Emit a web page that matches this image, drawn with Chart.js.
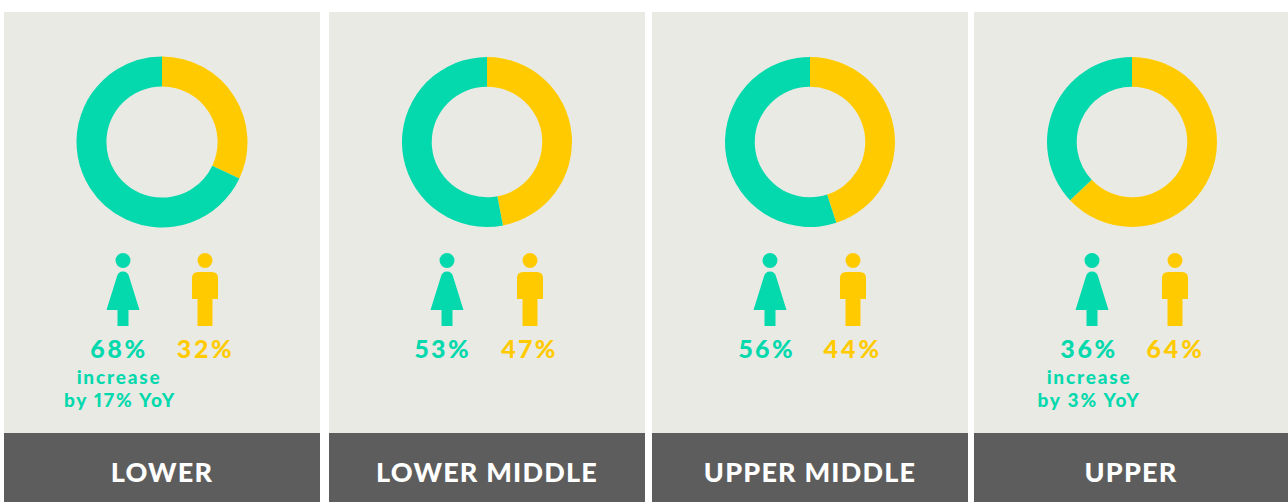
<!DOCTYPE html>
<html>
<head>
<meta charset="utf-8">
<script src="https://cdn.jsdelivr.net/npm/chart.js@4"></script>
<style>
  html, body { margin: 0; padding: 0; background: #fff; }
  #stage { position: relative; width: 1288px; height: 502px; overflow: hidden; font-family: Lato, sans-serif; }
  .panel, .band, canvas, svg, .txt { position: absolute; }
  .panel { top: 12px; height: 421px; background: #eaeae5; }
  .band { top: 433px; height: 69px; background: #5d5d5d; color: #fff; font-size: 27px; font-weight: 900;
          letter-spacing: 1.2px; text-align: center; line-height: 77px; }
  .txt { transform: translateX(-50%); white-space: nowrap; font-weight: 900; font-feature-settings: "pnum"; }
  .pct { top: 333px; font-size: 25px; letter-spacing: 2.6px; line-height: 30px; }
  .note { font-size: 19px; letter-spacing: 1.8px; line-height: 22px; }
</style>
</head>
<body>
<div id="stage"></div>
<script>
// datos
const categories = ['LOWER', 'LOWER MIDDLE', 'UPPER MIDDLE', 'UPPER'];
const femaleShare = [68, 53, 56, 36];
const maleShare = [32, 47, 44, 64];
// the rings in the picture are not cut exactly at the printed percentages
const femaleRing = [68, 53, 55, 37];
const maleRing = [32, 47, 45, 63];
const notes = [['increase', 'by 17% YoY'], [], [], ['increase', 'by 3% YoY']];

// colores y posiciones
const GREEN = '#03d9ac';
const YELLOW = '#ffcb00';
const panelX = [4, 329, 652, 974];
const panelW = [316, 316, 316, 314];
const ringX = [162, 487, 810, 1132];
const ringR = [85.5, 85, 85, 85];
const womanX = [122.5, 447, 770, 1092];
const manX = [205, 530, 853, 1175];
const femaleTextX = [119, 443, 767, 1089];
const maleTextX = [205.5, 529.5, 852.5, 1175.5];

const stage = document.getElementById('stage');

function addText(cls, text, x, color, top) {
    const el = document.createElement('div');
    el.className = 'txt ' + cls;
    el.textContent = text;
    el.style.left = x + 'px';
    el.style.color = color;
    if (top !== undefined) el.style.top = top + 'px';
    stage.appendChild(el);
}

function addIcon(x, color, path) {
    const svgNS = 'http://www.w3.org/2000/svg';
    const svg = document.createElementNS(svgNS, 'svg');
    svg.setAttribute('width', 40);
    svg.setAttribute('height', 80);
    svg.style.left = (x - 20) + 'px';
    svg.style.top = '250px';
    const head = document.createElementNS(svgNS, 'circle');
    head.setAttribute('cx', 20);
    head.setAttribute('cy', 10.5);
    head.setAttribute('r', 7.5);
    head.setAttribute('fill', color);
    const body = document.createElementNS(svgNS, 'path');
    body.setAttribute('d', path);
    body.setAttribute('fill', color);
    svg.appendChild(head);
    svg.appendChild(body);
    stage.appendChild(svg);
}

const WOMAN = 'M13.800 27 Q15 21.500 20 21.500 Q25 21.500 26.200 27 L36.500 60 L25.500 60 L25.500 76 L14.500 76 L14.500 60 L3.500 60 Z';
const MAN = 'M7 28 Q7 22 13 22 L27 22 Q33 22 33 28 L33 49 L27.500 49 L27.500 76 L12.500 76 L12.500 49 L7 49 Z';

categories.forEach(function(cat, i) {
    const panel = document.createElement('div');
    panel.className = 'panel';
    panel.style.left = panelX[i] + 'px';
    panel.style.width = panelW[i] + 'px';
    stage.appendChild(panel);

    const band = document.createElement('div');
    band.className = 'band';
    band.style.left = panelX[i] + 'px';
    band.style.width = panelW[i] + 'px';
    band.textContent = cat;
    stage.appendChild(band);

    const canvas = document.createElement('canvas');
    canvas.width = 172;
    canvas.height = 172;
    canvas.style.left = (ringX[i] - 86) + 'px';
    canvas.style.top = '56px';
    stage.appendChild(canvas);

    new Chart(canvas.getContext('2d'), {
        type: 'doughnut',
        data: {
            labels: ['Male', 'Female'],
            datasets: [{
                data: [maleRing[i], femaleRing[i]],
                backgroundColor: [YELLOW, GREEN],
                borderWidth: 0
            }]
        },
        options: {
            responsive: false,
            animation: false,
            radius: ringR[i],
            cutout: '65%',
            plugins: { legend: { display: false }, tooltip: { enabled: false } }
        }
    });

    addIcon(womanX[i], GREEN, WOMAN);
    addIcon(manX[i], YELLOW, MAN);
    addText('pct', femaleShare[i] + '%', femaleTextX[i], GREEN);
    addText('pct', maleShare[i] + '%', maleTextX[i], YELLOW);
    notes[i].forEach(function(line, j) {
        addText('note', line, femaleTextX[i] + (j === 1 && i === 0 ? 1 : 0), GREEN, 366 + j * 23);
    });
});
</script>
</body>
</html>
